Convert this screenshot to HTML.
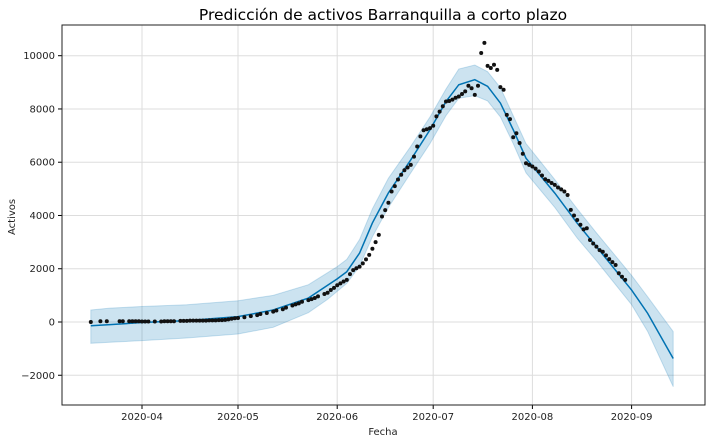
<!DOCTYPE html>
<html><head><meta charset="utf-8"><style>
body{margin:0;background:#fff;font-family:"Liberation Sans","DejaVu Sans",sans-serif}
svg text{font-family:"DejaVu Sans","Liberation Sans",sans-serif}
</style></head><body>
<svg id="chart" width="712" height="443"></svg>
<script>
const obsDates=["2020-03-16","2020-03-19","2020-03-21","2020-03-25","2020-03-26","2020-03-28","2020-03-29","2020-03-30","2020-03-31","2020-04-01","2020-04-02","2020-04-03","2020-04-05","2020-04-07","2020-04-08","2020-04-09","2020-04-10","2020-04-11","2020-04-13","2020-04-14","2020-04-15","2020-04-16","2020-04-17","2020-04-18","2020-04-19","2020-04-20","2020-04-21","2020-04-22","2020-04-23","2020-04-24","2020-04-25","2020-04-26","2020-04-27","2020-04-28","2020-04-29","2020-04-30","2020-05-01","2020-05-03","2020-05-05","2020-05-07","2020-05-08","2020-05-10","2020-05-12","2020-05-13","2020-05-15","2020-05-16","2020-05-18","2020-05-19","2020-05-20","2020-05-21","2020-05-23","2020-05-24","2020-05-25","2020-05-26","2020-05-28","2020-05-29","2020-05-30","2020-05-31","2020-06-01","2020-06-02","2020-06-03","2020-06-04","2020-06-05","2020-06-06","2020-06-07","2020-06-08","2020-06-09","2020-06-10","2020-06-11","2020-06-12","2020-06-13","2020-06-14","2020-06-15","2020-06-16","2020-06-17","2020-06-18","2020-06-19","2020-06-20","2020-06-21","2020-06-22","2020-06-23","2020-06-24","2020-06-25","2020-06-26","2020-06-27","2020-06-28","2020-06-29","2020-06-30","2020-07-01","2020-07-02","2020-07-03","2020-07-04","2020-07-05","2020-07-06","2020-07-07","2020-07-08","2020-07-09","2020-07-10","2020-07-11","2020-07-12","2020-07-13","2020-07-14","2020-07-15","2020-07-16","2020-07-17","2020-07-18","2020-07-19","2020-07-20","2020-07-21","2020-07-22","2020-07-23","2020-07-24","2020-07-25","2020-07-26","2020-07-27","2020-07-28","2020-07-29","2020-07-30","2020-07-31","2020-08-01","2020-08-02","2020-08-03","2020-08-04","2020-08-05","2020-08-06","2020-08-07","2020-08-08","2020-08-09","2020-08-10","2020-08-11","2020-08-12","2020-08-13","2020-08-14","2020-08-15","2020-08-16","2020-08-17","2020-08-18","2020-08-19","2020-08-20","2020-08-21","2020-08-22","2020-08-23","2020-08-24","2020-08-25","2020-08-26","2020-08-27","2020-08-28","2020-08-29","2020-08-30"];
const obsValues=[0,30,30,30,30,30,30,30,30,20,20,20,20,20,30,30,30,30,40,40,40,50,50,50,50,50,50,60,60,60,70,70,80,100,120,140,150,180,220,260,300,340,390,430,480,540,620,660,700,760,820,860,900,960,1050,1100,1200,1280,1380,1450,1520,1580,1800,1950,2020,2080,2200,2350,2520,2750,3000,3270,3960,4200,4480,4900,5100,5350,5530,5700,5800,5900,6210,6590,6970,7200,7240,7280,7370,7720,7900,8100,8280,8300,8350,8420,8470,8560,8660,8870,8780,8530,8870,10100,10480,9620,9540,9660,9470,8820,8720,7780,7620,6940,7090,6720,6320,5960,5900,5840,5760,5650,5500,5360,5300,5220,5150,5050,4980,4900,4770,4210,4000,3830,3650,3480,3520,3080,2950,2830,2700,2640,2500,2360,2250,2140,1830,1700,1580];
const fcDates=["2020-03-16","2020-03-22","2020-04-01","2020-04-15","2020-05-01","2020-05-12","2020-05-23","2020-05-29","2020-06-01","2020-06-04","2020-06-08","2020-06-12","2020-06-17","2020-06-24","2020-06-30","2020-07-05","2020-07-09","2020-07-14","2020-07-18","2020-07-22","2020-07-26","2020-07-30","2020-08-08","2020-08-15","2020-08-21","2020-09-01","2020-09-06","2020-09-14"];
const yhat=[-140,-100,-20,50,200,450,900,1380,1620,1890,2590,3720,4850,6090,7220,8280,8910,9100,8850,8220,7220,6150,4840,3710,2830,1200,330,-1370];
const yLower=[-800,-760,-700,-600,-450,-200,350,850,1150,1450,2100,3200,4300,5600,6700,7750,8400,8500,8300,7700,6700,5600,4300,3150,2300,650,-350,-2430];
const yUpper=[450,520,580,650,800,1000,1400,1850,2080,2350,3100,4250,5400,6600,7700,8750,9500,9650,9400,8800,7750,6700,5350,4250,3350,1750,950,-360];
const yTicks=[-2000,0,2000,4000,6000,8000,10000];
const xTicks=["2020-04-01","2020-05-01","2020-06-01","2020-07-01","2020-08-01","2020-09-01"];
const xTickLabels=["2020-04","2020-05","2020-06","2020-07","2020-08","2020-09"];

const NS="http://www.w3.org/2000/svg";
const svg=document.getElementById('chart');
const L=62,R=705,T=25,B=405;
const d0=Date.UTC(2020,3,1),pxDay=3.2,x0=142;
function t(s){const p=s.split('-');return Date.UTC(+p[0],+p[1]-1,+p[2]);}
function X(s){return x0+(t(s)-d0)/86400000*pxDay;}
function Y(v){return 322-v*0.02663;}
function mk(tag,attrs,parent){const e=document.createElementNS(NS,tag);for(const k in attrs)e.setAttribute(k,attrs[k]);(parent||svg).appendChild(e);return e;}

const bg=mk('rect',{x:L,y:T,width:R-L,height:B-T,fill:'#fff'});


yTicks.forEach(v=>{
  const g=mk('line',{x1:L,x2:R,y1:Y(v),y2:Y(v),stroke:'#ddd','stroke-width':1});
  
  
  mk('line',{x1:L-4,x2:L,y1:Y(v),y2:Y(v),stroke:'#000'});
  const tx=mk('text',{x:L-7,y:Y(v)+3.5,'text-anchor':'end','font-size':10,fill:'#222'});
  tx.textContent=v<0?'\u2212'+Math.abs(v):String(v);
  
  
});
xTicks.forEach((s,i)=>{
  const g=mk('line',{x1:X(s),x2:X(s),y1:T,y2:B,stroke:'#ddd','stroke-width':1});
  
  
  mk('line',{x1:X(s),x2:X(s),y1:B,y2:B+4,stroke:'#000'});
  const tx=mk('text',{x:X(s),y:B+15,'text-anchor':'middle','font-size':10,fill:'#222'});
  tx.textContent=xTickLabels[i];
  
  
});
let pts=fcDates.map((s,i)=>X(s)+','+Y(yUpper[i]));
for(let i=fcDates.length-1;i>=0;i--)pts.push(X(fcDates[i])+','+Y(yLower[i]));
const band=mk('polygon',{points:pts.join(' '),fill:'#0072B2','fill-opacity':0.2,stroke:'#0072B2','stroke-opacity':0.2});


const line=mk('polyline',{points:fcDates.map((s,i)=>X(s)+','+Y(yhat[i])).join(' '),fill:'none',stroke:'#0072B2','stroke-width':1.5});


obsDates.forEach((s,i)=>{
  const c=mk('circle',{cx:X(s),cy:Y(obsValues[i]),r:2,fill:'#111'});
  
  
});
const frame=mk('rect',{x:L,y:T,width:R-L,height:B-T,fill:'none',stroke:'#222','stroke-width':1});


const title=mk('text',{x:383,y:20,'text-anchor':'middle','font-size':15.5,fill:'#000'});
title.textContent='Predicción de activos Barranquilla a corto plazo';


const xl=mk('text',{x:383,y:435,'text-anchor':'middle','font-size':10,fill:'#222'});
xl.textContent='Fecha';


const yl=mk('text',{x:15,y:217,'text-anchor':'middle','font-size':10,fill:'#222',transform:'rotate(-90 15 217)'});
yl.textContent='Activos';


</script>
</body></html>
